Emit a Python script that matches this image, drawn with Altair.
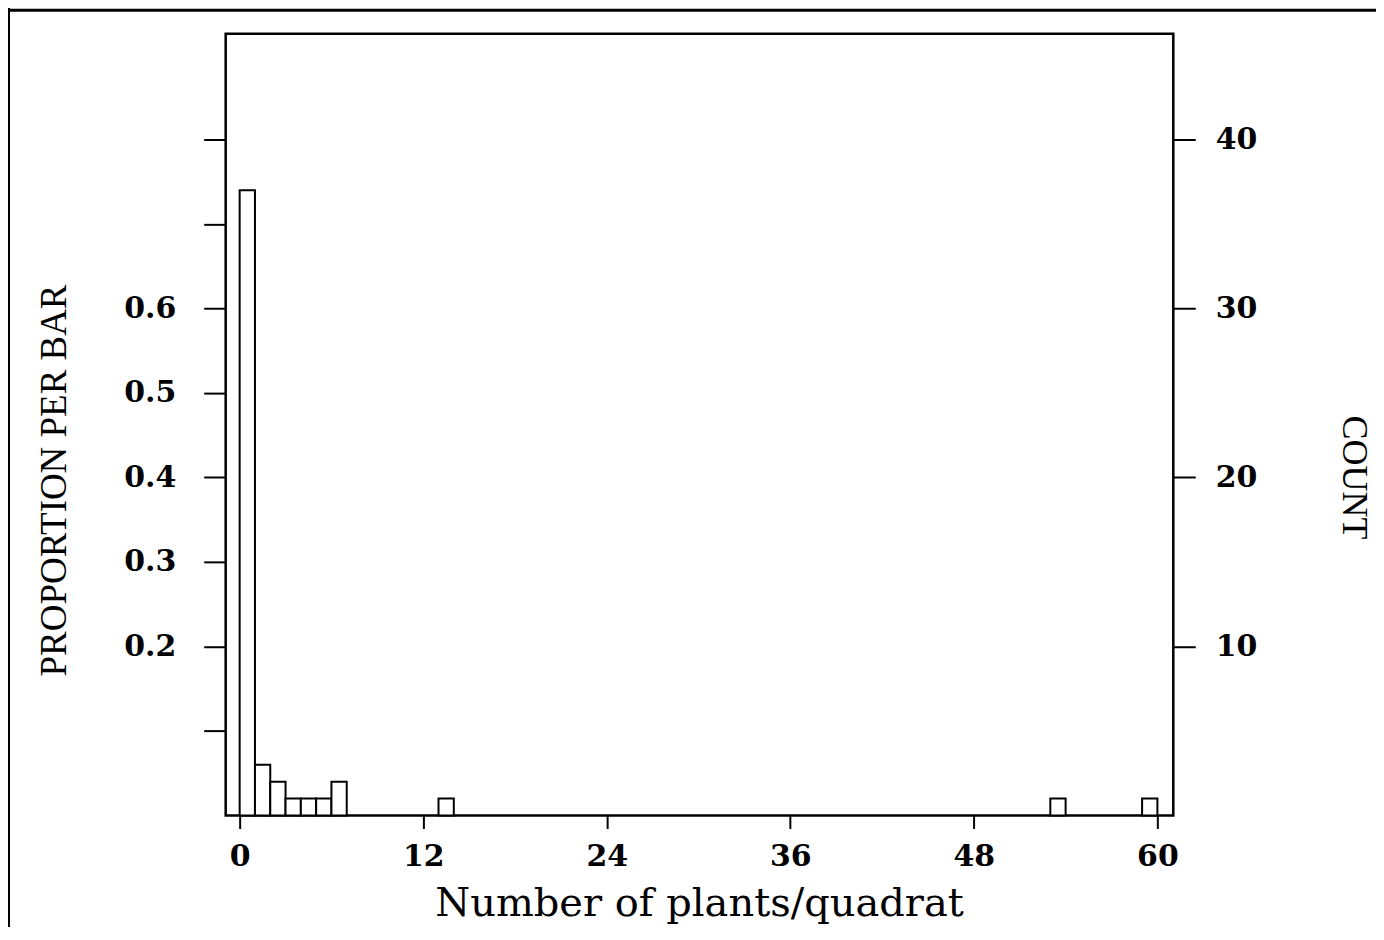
import altair as alt
import pandas as pd

# ---- data ----
bin_start = [0, 1, 2, 3, 4, 5, 6, 13, 53, 59]
counts = [37, 3, 2, 1, 1, 1, 2, 1, 1, 1]
x_ticks = [0, 12, 24, 36, 48, 60]
prop_ticks = [0.1, 0.2, 0.3, 0.4, 0.5, 0.6, 0.7, 0.8]
count_ticks = [10, 20, 30, 40]

total = sum(counts)
df = pd.DataFrame({
    "start": bin_start,
    "end": [b + 1 for b in bin_start],
    "count": counts,
})
df["prop"] = df["count"] / total

W, H = 949, 783
x_dom = [-0.914, 61.04]
count_max = 46.26
prop_max = count_max / total

xscale = alt.Scale(domain=x_dom, nice=False, zero=False)

x_axis = alt.Axis(
    values=x_ticks, title="Number of plants/quadrat", tickSize=13, labelPadding=13,
    titleFont="DejaVu Serif", titleFontWeight="normal", titleFontSize=40,
    titleX=474, titleY=100, titleBaseline="alphabetic", titleAlign="center", titleAngle=0,
    labelFlush=False, labelOverlap=False,
)

left_axis = alt.Axis(
    orient="left", values=prop_ticks,
    labelExpr="datum.value > 0.15 && datum.value < 0.65 ? format(datum.value, '.1f') : ''",
    title="PROPORTION PER BAR", tickSize=22, labelPadding=28,
    titleFont="Liberation Serif", titleFontWeight="normal", titleFontSize=37,
    titleX=-171, titleY=447, titleAngle=270, titleAlign="center", titleBaseline="middle",
    labelOverlap=False, labelFlush=False,
)

right_axis = alt.Axis(
    orient="right", values=count_ticks, format="d",
    title="COUNT", tickSize=22, labelPadding=20,
    titleFont="Liberation Serif", titleFontWeight="normal", titleFontSize=36,
    titleX=180, titleY=444, titleAngle=90, titleAlign="center", titleBaseline="middle",
    labelOverlap=False, labelFlush=False,
)

bars = alt.Chart(df).mark_rect(fill="white", stroke="black", strokeWidth=2).encode(
    x=alt.X("start:Q", scale=xscale, axis=x_axis),
    x2="end:Q",
    y=alt.Y("prop:Q", scale=alt.Scale(domain=[0, prop_max], nice=False, zero=True), axis=left_axis),
    y2=alt.datum(0),
)

count_layer = alt.Chart(df).mark_point(opacity=0).encode(
    x=alt.X("start:Q", scale=xscale),
    y=alt.Y("count:Q", scale=alt.Scale(domain=[0, count_max], nice=False, zero=True), axis=right_axis),
)

one = pd.DataFrame({"k": [0]})
frame_left = alt.Chart(one).mark_rule(color="black", strokeWidth=3).encode(
    x=alt.value(-217.5), y=alt.value(-40), y2=alt.value(H + 200)
)
frame_top = alt.Chart(one).mark_rule(color="black", strokeWidth=3).encode(
    x=alt.value(-240), x2=alt.value(W + 300), y=alt.value(-23.5)
)

chart = alt.layer(bars, count_layer, frame_left, frame_top).resolve_scale(
    y="independent"
).properties(
    width=W, height=H,
    autosize=alt.AutoSizeParams(type="none"),
    padding={"left": 218, "top": 25, "right": 203, "bottom": 111},
    background="white",
).configure_view(
    stroke="black", strokeWidth=2.5
).configure_axis(
    domain=False, grid=False,
    labelFont="DejaVu Serif", labelFontWeight="bold", labelFontSize=30, labelColor="black",
    tickColor="black", tickWidth=2, titleColor="black",
)

chart.save("out.html", embed_options={"renderer": "svg", "actions": False})
